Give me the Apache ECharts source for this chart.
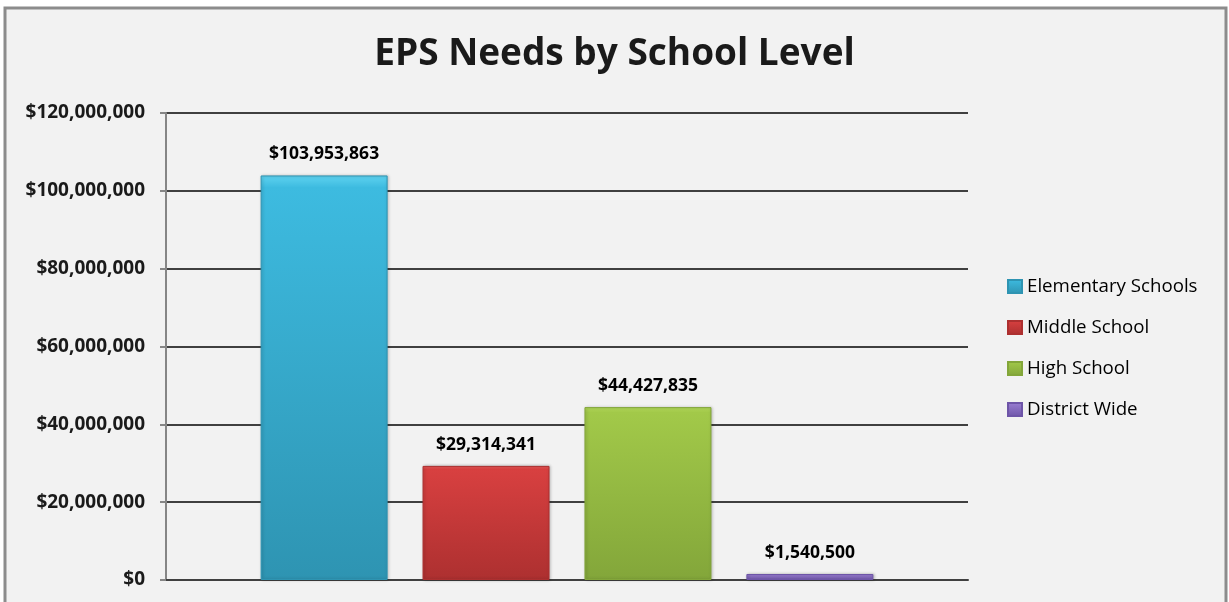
<!DOCTYPE html>
<html>
<head>
<meta charset="utf-8">
<script src="https://cdn.jsdelivr.net/npm/echarts@6/dist/echarts.min.js"></script>
<style>
html,body{margin:0;padding:0;background:#ffffff;}
#chart{width:1229px;height:602px;}
</style>
</head>
<body>
<div id="chart"></div>
<script>
const titleText = 'EPS Needs by School Level';
const seriesNames = ['Elementary Schools', 'Middle School', 'High School', 'District Wide'];
const seriesValues = [103953863, 29314341, 44427835, 1540500];
const categories = [''];
const yTicks = { min: 0, max: 120000000, interval: 20000000 };
const palette = [
  ['#5fd3f0', '#3dbbe0', '#2e94b2'],
  ['#ea5a5a', '#d84040', '#ad3030'],
  ['#b4da5c', '#a2c949', '#83a63a'],
  ['#b39af0', '#9a7ed2', '#6e55a8']
];

function money(v){ return '$' + Math.round(v).toLocaleString('en-US'); }

const chart = echarts.init(document.getElementById('chart'));
const font = '"Open Sans", "Noto Sans", sans-serif';

const series = seriesNames.map((name, i) => ({
  name: name,
  type: 'bar',
  data: [seriesValues[i]],
  barWidth: 127,
  barGap: '27.5%',
  itemStyle: {
    color: new echarts.graphic.LinearGradient(0, 0, 0, 1, [
      { offset: 0, color: palette[i][0] },
      { offset: 0.03, color: palette[i][1] },
      { offset: 1, color: palette[i][2] }
    ]),
    borderColor: palette[i][2],
    borderWidth: 1,
    shadowColor: 'rgba(0,0,0,0.25)',
    shadowBlur: 3,
    shadowOffsetX: 1
  },
  label: {
    show: true,
    position: 'top',
    distance: 12,
    formatter: p => money(p.value),
    fontFamily: font,
    fontWeight: 'bold',
    fontSize: 17.5,
    color: '#000'
  }
}));

chart.setOption({
  backgroundColor: '#ffffff',
  animation: false,
  graphic: [{
    type: 'rect',
    z: -10,
    shape: { x: 5, y: 8, width: 1221, height: 600 },
    style: { fill: '#f2f2f2', stroke: '#8c8c8c', lineWidth: 3 }
  }],
  title: {
    text: titleText,
    left: 'center',
    top: 31,
    textStyle: { fontFamily: font, fontWeight: 'bold', fontSize: 37, color: '#1a1a1a' }
  },
  legend: {
    orient: 'vertical',
    left: 1007,
    top: 277,
    padding: 0,
    itemWidth: 14,
    itemHeight: 13,
    itemGap: 22,
    icon: 'rect',
    data: seriesNames,
    textStyle: { fontFamily: font, fontSize: 18.7, color: '#000' }
  },
  grid: { left: 166, right: 261, top: 113, bottom: 22, containLabel: false },
  xAxis: {
    type: 'category',
    data: categories,
    axisLine: { show: true, lineStyle: { color: '#404040', width: 2 } },
    axisTick: { show: false },
    axisLabel: { show: false }
  },
  yAxis: {
    type: 'value',
    min: yTicks.min,
    max: yTicks.max,
    interval: yTicks.interval,
    axisLine: { show: true, lineStyle: { color: '#868686', width: 2 } },
    axisTick: { show: true, length: 6, lineStyle: { color: '#868686', width: 2 } },
    axisLabel: {
      formatter: v => money(v),
      fontFamily: font,
      fontWeight: 'bold',
      fontSize: 19,
      color: '#1a1a1a',
      margin: 21
    },
    splitLine: { show: true, lineStyle: { color: '#404040', width: 2 } }
  },
  series: series
});
</script>
</body>
</html>
